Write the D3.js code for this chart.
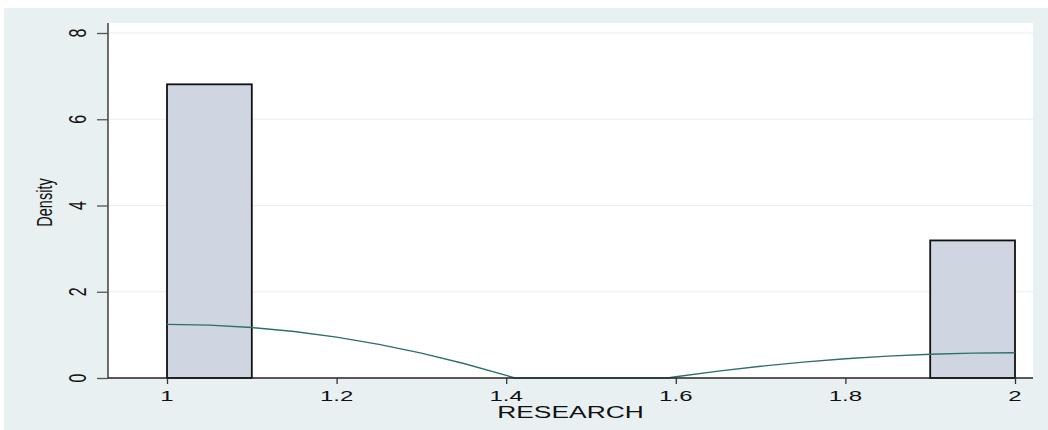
<!DOCTYPE html>
<html>
<head>
<meta charset="utf-8">
<script src="https://cdn.jsdelivr.net/npm/d3@7"></script>
<style>
  html, body { margin: 0; padding: 0; background: #ffffff; }
  svg { display: block; }
  text { font-family: "Liberation Sans", Arial, sans-serif; fill: #111; }
</style>
</head>
<body>
<svg id="chart" width="1048" height="430"></svg>
<script>
// Histogram of RESEARCH (density scale), bin width 0.1
const binStarts = [1.0, 1.9];
const binWidth = 0.1;
const binDensity = [6.81, 3.19];

// Kernel density overlay (x, density)
const kdeX = [1.00, 1.05, 1.10, 1.15, 1.20, 1.25, 1.30, 1.35, 1.40, 1.41,
              1.50, 1.59, 1.60, 1.65, 1.70, 1.75, 1.80, 1.85, 1.90, 1.95, 2.00];
const kdeY = [1.244, 1.225, 1.170, 1.077, 0.948, 0.781, 0.578, 0.337, 0.060, 0.0,
              0.0, 0.0, 0.028, 0.159, 0.272, 0.368, 0.446, 0.507, 0.551, 0.577, 0.585];

const xTicks = [1, 1.2, 1.4, 1.6, 1.8, 2];
const yTicks = [0, 2, 4, 6, 8];
const xTitle = "RESEARCH";
const yTitle = "Density";

const svg = d3.select("#chart");
const W = 1048, H = 430;

// outer graph region
svg.append("rect").attr("x", 4).attr("y", 8).attr("width", W - 4).attr("height", H - 8)
  .attr("fill", "#e9f0f2");

const plot = { left: 108, right: 1033, top: 23, bottom: 378 };

svg.append("rect")
  .attr("x", plot.left).attr("y", plot.top)
  .attr("width", plot.right - plot.left).attr("height", plot.bottom - plot.top)
  .attr("fill", "#ffffff");

const x = d3.scaleLinear().domain([1, 2]).range([167, 1015]);
const y = d3.scaleLinear().domain([0, 8]).range([plot.bottom, 33]);

// horizontal grid lines
svg.append("g").selectAll("line").data(yTicks.filter(d => d > 0)).join("line")
  .attr("x1", plot.left + 1).attr("x2", plot.right)
  .attr("y1", d => y(d)).attr("y2", d => y(d))
  .attr("stroke", "#e6eeee").attr("stroke-width", 1.2);

// bars
svg.append("g").selectAll("rect").data(binStarts).join("rect")
  .attr("x", d => x(d))
  .attr("y", (d, i) => y(binDensity[i]))
  .attr("width", d => x(d + binWidth) - x(d))
  .attr("height", (d, i) => y(0) - y(binDensity[i]))
  .attr("fill", "#d0d6e1")
  .attr("stroke", "#111")
  .attr("stroke-width", 1.8);

// kernel density line
const pts = kdeX.map((v, i) => [v, kdeY[i]]);
svg.append("path")
  .datum(pts)
  .attr("d", d3.line().x(d => x(d[0])).y(d => y(d[1])).curve(d3.curveLinear))
  .attr("fill", "none")
  .attr("stroke", "#2e7068")
  .attr("stroke-width", 1.4);

// y axis
const yAxis = svg.append("g").attr("transform", `translate(${plot.left},0)`)
  .call(d3.axisLeft(y).tickValues(yTicks).tickSize(11).tickFormat(""));
yAxis.select(".domain").attr("d", `M0,${plot.top}V${plot.bottom + 0.5}`).attr("stroke", "#222").attr("stroke-width", 1.3);
yAxis.selectAll(".tick line").attr("stroke", "#555").attr("stroke-width", 1.3);

// y tick labels (rotated)
svg.append("g").selectAll("text").data(yTicks).join("text")
  .attr("transform", d => `translate(86,${y(d)}) scale(1.5,1) rotate(-90)`)
  .attr("text-anchor", "middle")
  .style("font-size", "16px")
  .text(d => d);

// x axis
const xAxis = svg.append("g").attr("transform", `translate(0,${plot.bottom})`)
  .call(d3.axisBottom(x).tickValues(xTicks).tickSize(6).tickFormat(""));
xAxis.select(".domain").attr("d", `M${plot.left},0H${plot.right}`).attr("stroke", "#222").attr("stroke-width", 1.3);
xAxis.selectAll(".tick line").attr("stroke", "#333").attr("stroke-width", 1.3);

svg.append("g").selectAll("text").data(xTicks).join("text")
  .attr("transform", d => `translate(${x(d)},401) scale(1.6,1)`)
  .attr("text-anchor", "middle")
  .style("font-size", "15px")
  .text(d => d3.format("")(d));

// axis titles
svg.append("text")
  .attr("transform", `translate(${(plot.left + plot.right) / 2},418) scale(1.65,1)`)
  .attr("text-anchor", "middle")
  .style("font-size", "16px")
  .text(xTitle);

svg.append("text")
  .attr("transform", `translate(52,${(plot.top + plot.bottom) / 2 + 2}) scale(1.5,1) rotate(-90)`)
  .attr("text-anchor", "middle")
  .style("font-size", "14.5px")
  .text(yTitle);
</script>
</body>
</html>
